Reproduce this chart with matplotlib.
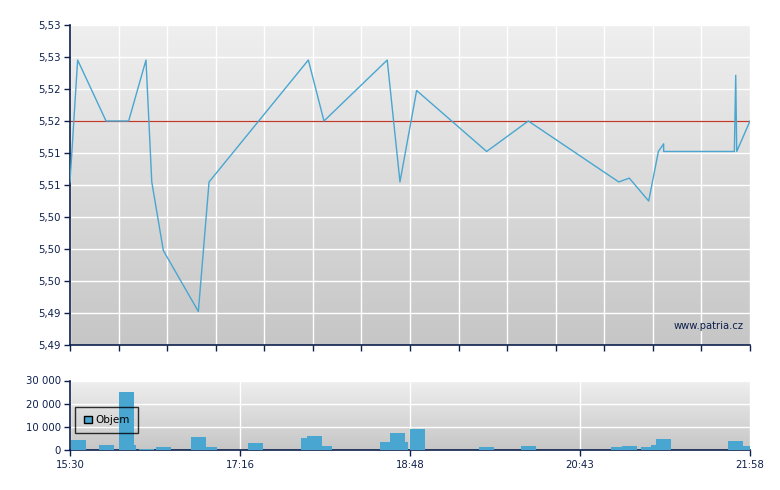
import numpy as np
import matplotlib
matplotlib.use("Agg")
import matplotlib.pyplot as plt
from matplotlib.ticker import FixedLocator, FuncFormatter
from matplotlib.colors import LinearSegmentedColormap
from matplotlib.patches import Patch

# --- data (x in tick-slot units: 0 = 15:30 ... 4 = 21:58) ---
time_labels = ["15:30", "17:16", "18:48", "20:43", "21:58"]

price_x = [0.0, 0.045, 0.212, 0.345, 0.447, 0.481, 0.549, 0.755, 0.818, 1.402,
           1.494, 1.866, 1.941, 2.039, 2.451, 2.696, 3.228, 3.290, 3.404, 3.461,
           3.492, 3.492, 3.908, 3.916, 3.922, 4.0]
price = [5.509, 5.525, 5.517, 5.517, 5.525, 5.509, 5.500, 5.492, 5.509, 5.525,
         5.517, 5.525, 5.509, 5.521, 5.513, 5.517, 5.509, 5.5095, 5.5065, 5.513,
         5.514, 5.513, 5.513, 5.523, 5.513, 5.517]
prev_close = 5.517

vol_x = [0.004, 0.172, 0.30, 0.290, 0.408, 0.506, 0.776, 0.712, 1.047, 1.359,
         1.453, 1.394, 1.824, 1.900, 1.882, 2.0, 2.406, 2.653, 3.182, 3.247,
         3.359, 3.418, 3.447, 3.871, 3.959]
volume = [4300, 2150, 2150, 25000, 600, 1400, 1400, 5600, 3000, 5200,
          1700, 6000, 3400, 3400, 7300, 9000, 1300, 1700, 1300, 1700,
          1300, 2150, 4700, 3900, 1700]

price_min, price_step = 5.4876, 0.0042
vol_ticks = [0, 10000, 20000, 30000]

navy = "#0d1f4c"
blue = "#48a6d0"
grad_cmap = LinearSegmentedColormap.from_list("bg", ["#c6c6c6", "#efefef"])


def gradient(ax):
    g = np.linspace(0, 1, 256).reshape(-1, 1)
    ax.imshow(g, extent=[0, 1, 0, 1], transform=ax.transAxes, origin="lower",
              aspect="auto", cmap=grad_cmap, zorder=-1)


def style(ax):
    ax.set_axisbelow(True)
    ax.grid(True, color="white", lw=1.0)
    for s in ["top", "right"]:
        ax.spines[s].set_visible(False)
    for s in ["left", "bottom"]:
        ax.spines[s].set_color(navy)
        ax.spines[s].set_linewidth(1.2)
    ax.tick_params(colors=navy, labelcolor=navy, length=4, width=1.0,
                   labelsize=7.3)


fig = plt.figure(figsize=(7.8, 4.9), dpi=100)

# --- price panel ---
ax1 = fig.add_axes([70 / 780, 145 / 490, 680 / 780, 320 / 490])
gradient(ax1)
style(ax1)
yt = [price_min + i * price_step for i in range(11)]
ax1.set_ylim(yt[0], yt[-1])
ax1.set_xlim(0, 4)
ax1.yaxis.set_major_locator(FixedLocator(yt))
ax1.yaxis.set_major_formatter(FuncFormatter(lambda v, p: f"{v:.2f}".replace(".", ",")))
ax1.xaxis.set_major_locator(FixedLocator(np.linspace(0, 4, 15)))
ax1.set_xticklabels([])
ax1.tick_params(axis="y", pad=2.5)
ax1.axhline(prev_close, color="#c0392b", lw=0.9, zorder=2)
ax1.plot(price_x, price, color=blue, lw=1.0, zorder=3)
ax1.text(0.99, 0.06, "www.patria.cz", transform=ax1.transAxes, ha="right",
         va="center", fontsize=7.2, color=navy)

# --- volume panel ---
ax2 = fig.add_axes([70 / 780, 40 / 490, 680 / 780, 69.5 / 490])
gradient(ax2)
style(ax2)
ax2.set_xlim(0, 4)
ax2.set_ylim(0, 30000)
ax2.yaxis.set_major_locator(FixedLocator(vol_ticks))
ax2.yaxis.set_major_formatter(FuncFormatter(lambda v, p: f"{int(v):,}".replace(",", " ")))
ax2.xaxis.set_major_locator(FixedLocator(range(len(time_labels))))
ax2.set_xticklabels(time_labels)
ax2.tick_params(axis="x", pad=3.5)
ax2.tick_params(axis="y", pad=2.5)
ax2.bar(vol_x, volume, width=0.088, align="edge", color=blue, lw=0, zorder=3)

leg = ax2.legend(handles=[Patch(facecolor=blue, edgecolor="black", lw=1.0, label="Objem")],
                 loc="lower left", bbox_to_anchor=(0.008, 0.24), borderaxespad=0,
                 fontsize=7.5, frameon=True, fancybox=False, handlelength=0.75,
                 handleheight=0.75, handletextpad=0.4, borderpad=0.8)
leg.get_frame().set_edgecolor("black")
leg.get_frame().set_facecolor("none")
leg.get_frame().set_linewidth(1.0)
leg.set_zorder(5)

fig.savefig("out.png", dpi=100)
